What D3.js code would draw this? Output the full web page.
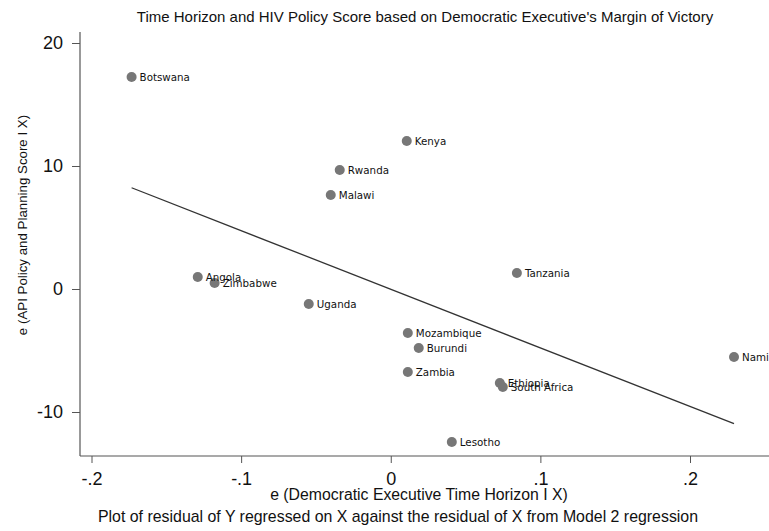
<!DOCTYPE html>
<html>
<head>
<meta charset="utf-8">
<script src="https://cdn.jsdelivr.net/npm/d3@7"></script>
<style>
  body { margin: 0; background: #fff; }
  text { fill: #111; }
  .tick-label { font-family: "Liberation Sans", Arial, sans-serif; font-size: 18px; }
  .point-label { font-family: "DejaVu Sans", sans-serif; font-size: 10.3px; }
  .narrow { font-family: "Liberation Sans Narrow", "Liberation Sans", sans-serif; }
</style>
</head>
<body>
<svg id="chart" width="769" height="531"></svg>
<script>
const countries = ["Botswana", "Kenya", "Rwanda", "Malawi", "Tanzania", "Angola", "Zimbabwe", "Uganda",
    "Mozambique", "Burundi", "Namibia", "Zambia", "Ethiopia", "South Africa", "Lesotho"];
const timeHorizonResid = [-0.1732, 0.0107, -0.0341, -0.0401, 0.0843, -0.129, -0.1177, -0.0548,
    0.0114, 0.0187, 0.2294, 0.0114, 0.0729, 0.0749, 0.0408];
const policyScoreResid = [17.24, 12.03, 9.67, 7.64, 1.30, 0.98, 0.49, -1.22,
    -3.58, -4.80, -5.53, -6.75, -7.64, -7.97, -12.44];

const xTicks = [-0.2, -0.1, 0, 0.1, 0.2];
const xTickLabels = ["-.2", "-.1", "0", ".1", ".2"];
const yTicks = [-10, 0, 10, 20];
const yTickLabels = ["-10", "0", "10", "20"];

const TITLE = "Time Horizon and HIV Policy Score based on Democratic Executive's Margin of Victory";
const X_TITLE = "e (Democratic Executive Time Horizon I X)";
const Y_TITLE = "e (API Policy and Planning Score I X)";
const NOTE = "Plot of residual of Y regressed on X against the residual of X from Model 2 regression";

const PLOT_LEFT = 80, PLOT_RIGHT = 769, PLOT_TOP = 32, PLOT_BOTTOM = 456;

const points = countries.map((name, i) => ({ name, x: timeHorizonResid[i], y: policyScoreResid[i] }));

const x = d3.scaleLinear().domain([-0.2, 0.2]).range([91.5, 690]);
const y = d3.scaleLinear().domain([-10, 20]).range([412, 43]);

// least squares fit through the residuals
const mx = d3.mean(points, (d) => d.x);
const my = d3.mean(points, (d) => d.y);
const slope = d3.sum(points, (d) => (d.x - mx) * (d.y - my)) / d3.sum(points, (d) => (d.x - mx) ** 2);
const intercept = my - slope * mx;
const xExtent = d3.extent(points, (d) => d.x);

const svg = d3.select("#chart");

// axes
const xAxis = svg.append("g")
    .attr("transform", `translate(0, ${PLOT_BOTTOM})`)
    .call(d3.axisBottom(x).tickValues(xTicks).tickFormat((_d, i) => xTickLabels[i]).tickSize(7).tickPadding(9));
const yAxis = svg.append("g")
    .attr("transform", `translate(${PLOT_LEFT}, 0)`)
    .call(d3.axisLeft(y).tickValues(yTicks).tickFormat((_d, i) => yTickLabels[i]).tickSize(8).tickPadding(9));

for (const g of [xAxis, yAxis]) {
    g.select(".domain").remove();
    g.selectAll(".tick line").attr("stroke", "#555");
    g.selectAll(".tick text").attr("class", "tick-label").attr("fill", "#111");
}

svg.append("line")
    .attr("x1", PLOT_LEFT).attr("x2", PLOT_RIGHT)
    .attr("y1", PLOT_BOTTOM).attr("y2", PLOT_BOTTOM)
    .attr("stroke", "#555").attr("stroke-width", 1.2);
svg.append("line")
    .attr("x1", PLOT_LEFT).attr("x2", PLOT_LEFT)
    .attr("y1", PLOT_TOP).attr("y2", PLOT_BOTTOM)
    .attr("stroke", "#555").attr("stroke-width", 1.2);

// fitted line
svg.append("line")
    .attr("x1", x(xExtent[0])).attr("y1", y(intercept + slope * xExtent[0]))
    .attr("x2", x(xExtent[1])).attr("y2", y(intercept + slope * xExtent[1]))
    .attr("stroke", "#333").attr("stroke-width", 1.3);

// points and labels
svg.selectAll(".dot")
    .data(points)
    .enter()
    .append("circle")
    .attr("class", "dot")
    .attr("cx", (d) => x(d.x))
    .attr("cy", (d) => y(d.y))
    .attr("r", 5)
    .attr("fill", "#777");

svg.selectAll(".point-label")
    .data(points)
    .enter()
    .append("text")
    .attr("class", "point-label")
    .attr("x", (d) => x(d.x) + 8)
    .attr("y", (d) => y(d.y) + 4)
    .text((d) => d.name);

// titles
svg.append("text")
    .attr("class", "narrow")
    .attr("x", 425).attr("y", 22)
    .attr("text-anchor", "middle")
    .style("font-size", "15px")
    .text(TITLE);

svg.append("text")
    .attr("x", 419).attr("y", 500)
    .attr("text-anchor", "middle")
    .style("font-family", "Liberation Sans, Arial, sans-serif")
    .style("font-size", "15.8px")
    .text(X_TITLE);

svg.append("text")
    .attr("class", "narrow")
    .attr("x", 398).attr("y", 522)
    .attr("text-anchor", "middle")
    .style("font-size", "15.9px")
    .text(NOTE);

svg.append("text")
    .attr("transform", `translate(27, 225) rotate(-90)`)
    .attr("text-anchor", "middle")
    .style("font-family", "Liberation Sans, Arial, sans-serif")
    .style("font-size", "13.3px")
    .text(Y_TITLE);
</script>
</body>
</html>
